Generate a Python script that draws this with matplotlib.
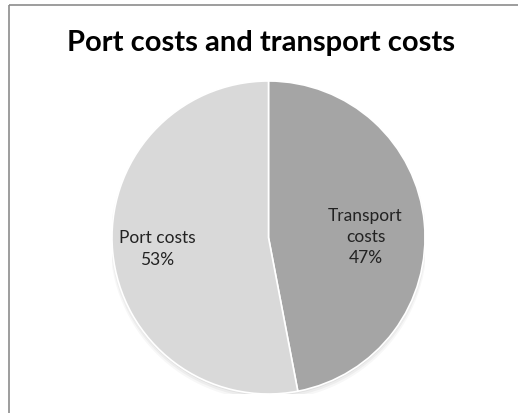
import numpy as np
import matplotlib.pyplot as plt
from matplotlib.patches import Rectangle, Circle

# cost split
categories = ['Transport costs', 'Port costs']
shares = [47, 53]
colors = ['#A5A5A5', '#D9D9D9']
label_text = ['Transport\ncosts\n47%', 'Port costs\n53%']

W, H = 518, 414
fig = plt.figure(figsize=(W / 100, H / 100), dpi=100)

# chart frame (runs past the right and bottom edges)
frame = Rectangle((9 / W, 1 - 6 / H), 1.2, -1.2, transform=fig.transFigure,
                  fill=False, edgecolor='#8c8c8c', linewidth=1.2, clip_on=False)
fig.patches.append(frame)

fig.text(261 / W, 1 - 43 / H, 'Port costs and transport costs',
         ha='center', va='center', fontsize=21, fontweight='bold',
         family='Lato', color='black')

cx, cy, r = 268.5, 238.5, 156.5
ax = fig.add_axes([(cx - r) / W, (H - cy - r) / H, 2 * r / W, 2 * r / H])
ax.axis('off')

# soft shadow under the pie
for k, a in enumerate([0.05, 0.04, 0.03]):
    ax.add_patch(Circle((0, -0.012 - 0.008 * k), 1.0 + 0.006 * k,
                        color='black', alpha=a, lw=0, zorder=0))

wedges, _ = ax.pie(shares, colors=colors, startangle=90, counterclock=False,
                   radius=1.0, wedgeprops=dict(edgecolor='white', linewidth=1.2))
for w in wedges:
    w.set_zorder(2)
ax.set_xlim(-1.0, 1.0)
ax.set_ylim(-1.0, 1.0)

label_r = [0.62, 0.715]
label_shift = [-4.5, 0]
for w, txt, rr, sh in zip(wedges, label_text, label_r, label_shift):
    mid = np.deg2rad((w.theta1 + w.theta2) / 2 + sh)
    ax.text(rr * np.cos(mid), rr * np.sin(mid), txt, ha='center', va='center',
            fontsize=12.5, family='Lato', color='#222222', linespacing=1.4,
            zorder=3)

fig.savefig('out.png', dpi=100)
